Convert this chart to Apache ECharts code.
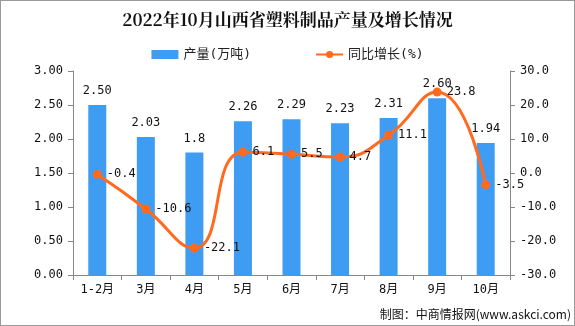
<!DOCTYPE html>
<html><head><meta charset="utf-8">
<script src="https://cdn.jsdelivr.net/npm/echarts@6/dist/echarts.min.js"></script>
<style>html,body{margin:0;padding:0;background:#fff}#c{width:573px;height:324px;border:1px solid #999;}</style>
</head><body><div id="c"></div>
<script>
const categories = ['1-2月','3月','4月','5月','6月','7月','8月','9月','10月'];
const output = [2.50, 2.03, 1.8, 2.26, 2.29, 2.23, 2.31, 2.60, 1.94];
const outputLabels = ['2.50','2.03','1.8','2.26','2.29','2.23','2.31','2.60','1.94'];
const growth = [-0.4, -10.6, -22.1, 6.1, 5.5, 4.7, 11.1, 23.8, -3.5];
const leftTicks = ['0.00','0.50','1.00','1.50','2.00','2.50','3.00'];

const font = '"DejaVu Sans Mono", "Noto Sans CJK SC", monospace';
const chart = echarts.init(document.getElementById('c'));
chart.setOption({
  animation: false,
  textStyle: {fontFamily: font},
  title: {
    text: '2022年10月山西省塑料制品产量及增长情况',
    left: 'center', top: 5,
    textStyle: {fontSize: 17, fontWeight: 'bold', color: '#111', fontFamily: '"Noto Serif CJK SC","Noto Sans CJK SC",serif'}
  },
  legend: {
    top: 42, left: 'center', itemGap: 64, itemWidth: 27, itemHeight: 9,
    textStyle: {fontSize: 13, color: '#222', fontFamily: font},
    data: [{name: '产量(万吨)', icon: 'rect'}, {name: '同比增长(%)'}]
  },
  grid: {left: 72, right: 64, top: 70, bottom: 50},
  xAxis: {
    type: 'category', data: categories,
    axisLine: {lineStyle: {color: '#888'}},
    axisTick: {show: true, length: 5, lineStyle: {color: '#888'}},
    axisLabel: {color: '#111', fontSize: 12, margin: 9, fontFamily: font}
  },
  yAxis: [
    {type: 'value', min: 0, max: 3, interval: 0.5,
     axisLine: {show: true, lineStyle: {color: '#888'}},
     axisTick: {show: true, length: 5, lineStyle: {color: '#888'}},
     splitLine: {show: false},
     axisLabel: {color: '#111', fontSize: 12, margin: 10, fontFamily: font, formatter: (v) => leftTicks[Math.round(v / 0.5)]}},
    {type: 'value', min: -30, max: 30, interval: 10,
     axisLine: {show: true, lineStyle: {color: '#888'}},
     axisTick: {show: true, length: 5, lineStyle: {color: '#888'}},
     splitLine: {show: false},
     axisLabel: {color: '#111', fontSize: 12, margin: 10, fontFamily: font, formatter: (v) => v.toFixed(1)}}
  ],
  series: [
    {name: '产量(万吨)', type: 'bar', data: output, barWidth: 18,
     itemStyle: {color: '#3E9DF2'},
     label: {show: true, position: 'top', distance: 8, color: '#111', fontSize: 12, fontFamily: font,
             formatter: (p) => outputLabels[p.dataIndex]}},
    {name: '同比增长(%)', type: 'line', yAxisIndex: 1, data: growth, smooth: 0.5,
     symbol: 'circle', symbolSize: 9,
     lineStyle: {color: '#FF6A1F', width: 3},
     itemStyle: {color: '#FF6A1F'},
     label: {show: true, position: 'right', distance: 5, color: '#111', fontSize: 12, fontFamily: font}}
  ],
  graphic: [{
    type: 'text', right: 3, bottom: 5,
    style: {text: '制图：中商情报网(www.askci.com)', fontSize: 12, fill: '#111', fontFamily: '"Noto Sans CJK SC", sans-serif'}
  }]
});
</script></body></html>
